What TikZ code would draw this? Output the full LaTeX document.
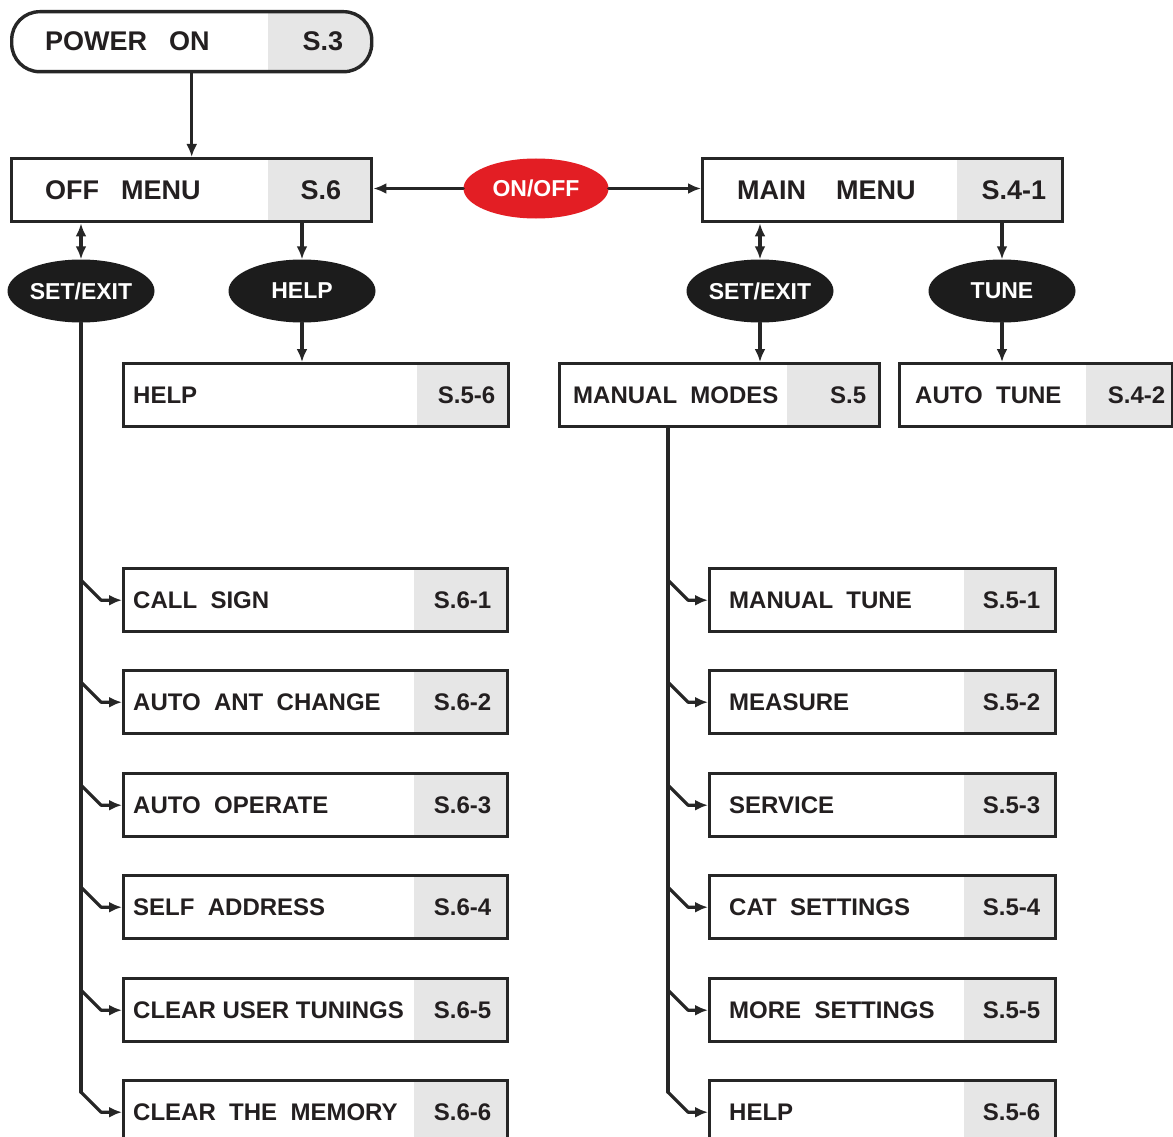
\documentclass[tikz,border=0pt]{standalone}
\usepackage{fontspec}
\setmainfont{Liberation Sans}
\usetikzlibrary{shapes.geometric,arrows.meta,calc}
\definecolor{lc}{HTML}{262626}
\definecolor{tc}{HTML}{231F20}
\definecolor{gfill}{HTML}{E6E6E6}
\definecolor{redov}{HTML}{E31E24}
\definecolor{blkov}{HTML}{1C1C1C}
\tikzset{
  greyw/.style={path picture={\fill[gfill, sharp corners] ([xshift=-#1]path picture bounding box.north east) rectangle (path picture bounding box.south east);}},
  topbox/.style={draw=lc, line width=3.4pt, rectangle, minimum width=360pt, minimum height=63pt, inner sep=0pt, anchor=north west},
  lbox/.style={draw=lc, line width=3.4pt, rectangle, minimum height=63pt, inner sep=0pt, anchor=north west},
  toptext/.style={inner sep=0pt, text=tc, font=\fontsize{27}{27}\selectfont\bfseries},
  ltext/.style={inner sep=0pt, text=tc, font=\fontsize{24}{24}\selectfont\bfseries},
  oval/.style={ellipse, fill=blkov, text=white, minimum width=147pt, minimum height=63pt, inner sep=0pt, font=\fontsize{23}{23}\selectfont\bfseries},
  ln/.style={draw=lc, line width=3.2pt, line cap=round, line join=round},
  arr/.style={ln, -{Latex[length=13pt,width=11pt]}},
  darr/.style={ln, {Latex[length=13pt,width=11pt]}-{Latex[length=13pt,width=11pt]}},
}
\begin{document}
\begin{tikzpicture}[x=1pt,y=-1pt]
\useasboundingbox (0,0) rectangle (1173,1137);
\clip (0,0) rectangle (1173,1137);
\fill[white] (0,0) rectangle (1173,1137);

% top row
\node[topbox, minimum height=60pt, rounded corners=28pt, greyw=104pt] (pon) at (10,10) {};
\node[toptext, anchor=west] (pon-t) at ([xshift=35pt]pon.west) {POWER\hspace{22pt}ON};
\node[toptext, anchor=east] (pon-c) at ([xshift=-30pt]pon.east) {S.3};

\node[topbox, greyw=104pt] (offm) at (10,157) {};
\node[toptext, anchor=west] (offm-t) at ([xshift=35pt]offm.west) {OFF\hspace{22pt}MENU};
\node[toptext, anchor=east] (offm-c) at ([xshift=-32pt]offm.east) {S.6};

\node[topbox, greyw=106pt] (mainm) at (701,157) {};
\node[toptext, anchor=west] (mainm-t) at ([xshift=36pt]mainm.west) {MAIN\hspace{30pt}MENU};
\node[toptext, anchor=east] (mainm-c) at ([xshift=-18pt]mainm.east) {S.4-1};

\node[ellipse, fill=redov, text=white, minimum width=145pt, minimum height=60pt, inner sep=0pt, font=\fontsize{23}{23}\selectfont\bfseries] (onoff) at (536,188.5) {ON/OFF};

% ovals
\node[oval] (setl) at (81,291) {SET/EXIT};
\node[oval] (helpe) at (302,291) {HELP};
\node[oval] (setr) at (760,291) {SET/EXIT};
\node[oval] (tunee) at (1002,291) {TUNE};

% second level boxes
\node[lbox, minimum width=385pt, greyw=92pt] (helpb) at (122,362) {};
\node[ltext, anchor=west] (helpb-t) at ([xshift=11pt]helpb.west) {HELP};
\node[ltext, anchor=east] (helpb-c) at ([xshift=-15pt]helpb.east) {S.5-6};

\node[lbox, minimum width=320pt, greyw=93pt] (mmodes) at (558,362) {};
\node[ltext, anchor=west] (mmodes-t) at ([xshift=15pt]mmodes.west) {MANUAL\ \ MODES};
\node[ltext, anchor=east] (mmodes-c) at ([xshift=-15pt]mmodes.east) {S.5};

\node[lbox, minimum width=273pt, greyw=87pt] (atune) at (898,362) {};
\node[ltext, anchor=west] (atune-t) at ([xshift=17pt]atune.west) {AUTO\ \ TUNE};
\node[ltext, anchor=east] (atune-c) at ([xshift=-9pt]atune.east) {S.4-2};

% connectors top
\draw[arr] (pon.south) -- (offm.north);
\draw[arr] (onoff.west) -- (onoff.west -| offm.east);
\draw[arr] (onoff.east) -- (onoff.east -| mainm.west);
\draw[darr] (offm.south -| setl) -- (setl.north);
\draw[arr] (offm.south -| helpe) -- (helpe.north);
\draw[arr] (helpe.south) -- (helpe.south |- helpb.north);
\draw[darr] (mainm.south -| setr) -- (setr.north);
\draw[arr] (mainm.south -| tunee) -- (tunee.north);
\draw[arr] (setr.south) -- (setr.south |- mmodes.north);
\draw[arr] (tunee.south) -- (tunee.south |- atune.north);

% left column
\foreach \n/\y/\t/\c in {cs/567/{CALL\ \ SIGN}/S.6-1, aac/669/{AUTO\ \ ANT\ \ CHANGE}/S.6-2, ao/772/{AUTO\ \ OPERATE}/S.6-3, sa/874/{SELF\ \ ADDRESS}/S.6-4, cut/977/{CLEAR USER TUNINGS}/S.6-5, ctm/1079/{CLEAR\ \ THE\ \ MEMORY}/S.6-6}{
  \node[lbox, minimum width=384pt, greyw=94pt] (\n) at (122,\y) {};
  \node[ltext, anchor=west] (\n-t) at ([xshift=11pt]\n.west) {\t};
  \node[ltext, anchor=east] (\n-c) at ([xshift=-18pt]\n.east) {\c};
  \draw[arr] ([yshift=20pt]\n.west -| setl.south) -- ++(20,20) -- (\n.west);
}
\draw[ln] (setl.south) -- ([yshift=20pt]ctm.west -| setl.south);

% right column
\coordinate (rtr) at ([xshift=110pt]mmodes.south west);
\foreach \n/\y/\t/\c in {mt/567/{MANUAL\ \ TUNE}/S.5-1, me/669/{MEASURE}/S.5-2, se/772/{SERVICE}/S.5-3, cat/874/{CAT\ \ SETTINGS}/S.5-4, ms/977/{MORE\ \ SETTINGS}/S.5-5, hp/1079/{HELP}/S.5-6}{
  \node[lbox, minimum width=346pt, greyw=92pt] (\n) at (708,\y) {};
  \node[ltext, anchor=west] (\n-t) at ([xshift=21pt]\n.west) {\t};
  \node[ltext, anchor=east] (\n-c) at ([xshift=-17pt]\n.east) {\c};
  \draw[arr] ([yshift=20pt]\n.west -| rtr) -- ++(20,20) -- (\n.west);
}
\draw[ln] (rtr) -- ([yshift=20pt]hp.west -| rtr);
\end{tikzpicture}
\end{document}
